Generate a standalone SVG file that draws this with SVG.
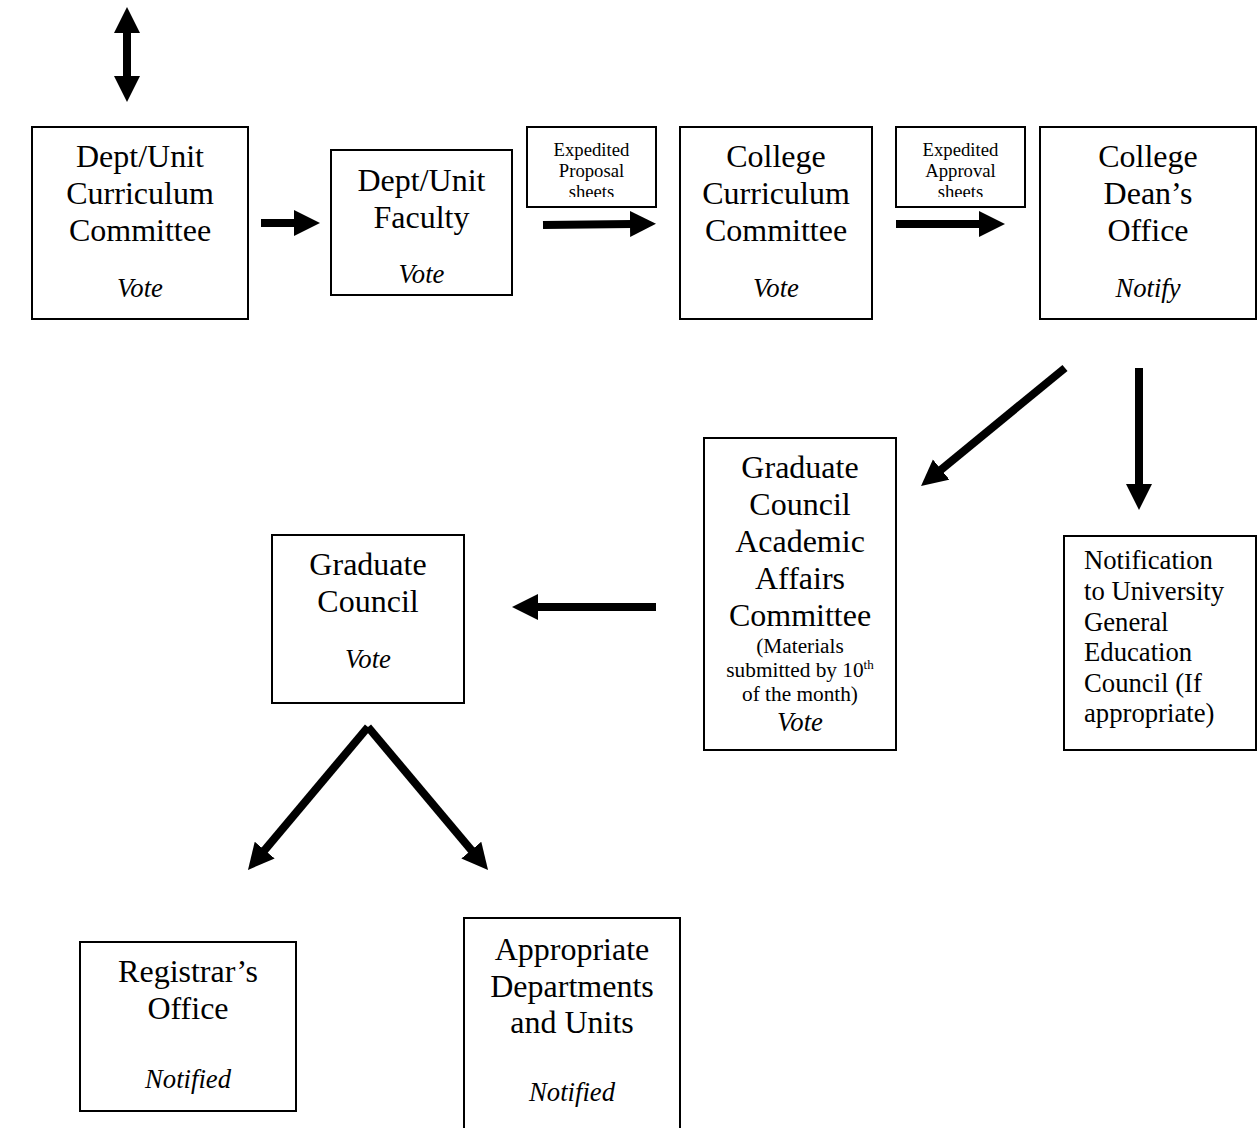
<svg xmlns="http://www.w3.org/2000/svg" width="1257" height="1128" viewBox="0 0 1257 1128">
<style>
.box{fill:#fff;stroke:#000;stroke-width:2}
.t{font-family:"Liberation Serif","Times New Roman",serif;fill:#000;text-anchor:middle}
.L{font-size:32px}
.M{font-size:26.7px}
.S{font-size:21.3px}
.XS{font-size:18.7px}
.i{font-style:italic;font-size:26.7px}
.tl{text-anchor:start}
.arr{stroke:#000;stroke-width:8;fill:none;marker-end:url(#ah)}
</style>
<defs>
<marker id="ah" markerUnits="userSpaceOnUse" markerWidth="30" markerHeight="28" refX="2" refY="13" orient="auto-start-reverse">
<path d="M0,0 L26,13 L0,26 Z" fill="#000"/>
</marker>
<clipPath id="c1"><rect x="527" y="127" width="129" height="70"/></clipPath>
<clipPath id="c2"><rect x="896" y="127" width="129" height="70"/></clipPath>
</defs>
<rect width="1257" height="1128" fill="#fff"/>

<g id="connectors">
<line class="arr" x1="127" y1="31" x2="127" y2="78" marker-start="url(#ah)"/>
<line class="arr" x1="261" y1="223" x2="296" y2="223"/>
<line class="arr" x1="543" y1="225" x2="632" y2="224"/>
<line class="arr" x1="896" y1="224" x2="981" y2="224"/>
<line class="arr" x1="1065" y1="368" x2="939.6" y2="470.8"/>
<line class="arr" x1="1139" y1="368" x2="1139" y2="486"/>
<line class="arr" x1="656" y1="607" x2="536" y2="607"/>
<line class="arr" x1="368" y1="727" x2="263.4" y2="851.6"/>
<line class="arr" x1="368" y1="727" x2="472.6" y2="851.6"/>
</g>

<g id="dept-curriculum">
<rect class="box" x="32" y="127" width="216" height="192"/>
<text class="t L" x="140" y="167">Dept/Unit</text>
<text class="t L" x="140" y="204">Curriculum</text>
<text class="t L" x="140" y="241">Committee</text>
<text class="t i" x="140" y="297">Vote</text>
</g>

<g id="dept-faculty">
<rect class="box" x="331" y="150" width="181" height="145"/>
<text class="t L" x="421.5" y="191">Dept/Unit</text>
<text class="t L" x="421.5" y="228">Faculty</text>
<text class="t i" x="421.5" y="283">Vote</text>
</g>

<g id="expedited-proposal">
<rect class="box" x="527" y="127" width="129" height="80"/>
<g clip-path="url(#c1)">
<text class="t XS" x="591.5" y="156">Expedited</text>
<text class="t XS" x="591.5" y="177">Proposal</text>
<text class="t XS" x="591.5" y="198">sheets</text>
</g>
</g>

<g id="college-curriculum">
<rect class="box" x="680" y="127" width="192" height="192"/>
<text class="t L" x="776" y="167">College</text>
<text class="t L" x="776" y="204">Curriculum</text>
<text class="t L" x="776" y="241">Committee</text>
<text class="t i" x="776" y="297">Vote</text>
</g>

<g id="expedited-approval">
<rect class="box" x="896" y="127" width="129" height="80"/>
<g clip-path="url(#c2)">
<text class="t XS" x="960.5" y="156">Expedited</text>
<text class="t XS" x="960.5" y="177">Approval</text>
<text class="t XS" x="960.5" y="198">sheets</text>
</g>
</g>

<g id="college-dean">
<rect class="box" x="1040" y="127" width="216" height="192"/>
<text class="t L" x="1148" y="167">College</text>
<text class="t L" x="1148" y="204">Dean’s</text>
<text class="t L" x="1148" y="241">Office</text>
<text class="t i" x="1148" y="297">Notify</text>
</g>

<g id="gc-academic-affairs">
<rect class="box" x="704" y="438" width="192" height="312"/>
<text class="t L" x="800" y="478">Graduate</text>
<text class="t L" x="800" y="515">Council</text>
<text class="t L" x="800" y="552">Academic</text>
<text class="t L" x="800" y="589">Affairs</text>
<text class="t L" x="800" y="626">Committee</text>
<text class="t S" x="800" y="653">(Materials</text>
<text class="t S" x="800" y="677">submitted by 10<tspan font-size="13" dy="-8">th</tspan></text>
<text class="t S" x="800" y="701">of the month)</text>
<text class="t i" x="800" y="731">Vote</text>
</g>

<g id="notification-ugec">
<rect class="box" x="1064" y="536" width="192" height="214"/>
<text class="t M tl" x="1084" y="569">Notification</text>
<text class="t M tl" x="1084" y="600">to University</text>
<text class="t M tl" x="1084" y="631">General</text>
<text class="t M tl" x="1084" y="661">Education</text>
<text class="t M tl" x="1084" y="692">Council (If</text>
<text class="t M tl" x="1084" y="722">appropriate)</text>
</g>

<g id="graduate-council">
<rect class="box" x="272" y="535" width="192" height="168"/>
<text class="t L" x="368" y="575">Graduate</text>
<text class="t L" x="368" y="612">Council</text>
<text class="t i" x="368" y="668">Vote</text>
</g>

<g id="registrar">
<rect class="box" x="80" y="942" width="216" height="169"/>
<text class="t L" x="188" y="982">Registrar’s</text>
<text class="t L" x="188" y="1019">Office</text>
<text class="t i" x="188" y="1088">Notified</text>
</g>

<g id="appropriate-departments">
<rect class="box" x="464" y="918" width="216" height="220"/>
<text class="t L" x="572" y="960">Appropriate</text>
<text class="t L" x="572" y="997">Departments</text>
<text class="t L" x="572" y="1033">and Units</text>
<text class="t i" x="572" y="1101">Notified</text>
</g>
</svg>
